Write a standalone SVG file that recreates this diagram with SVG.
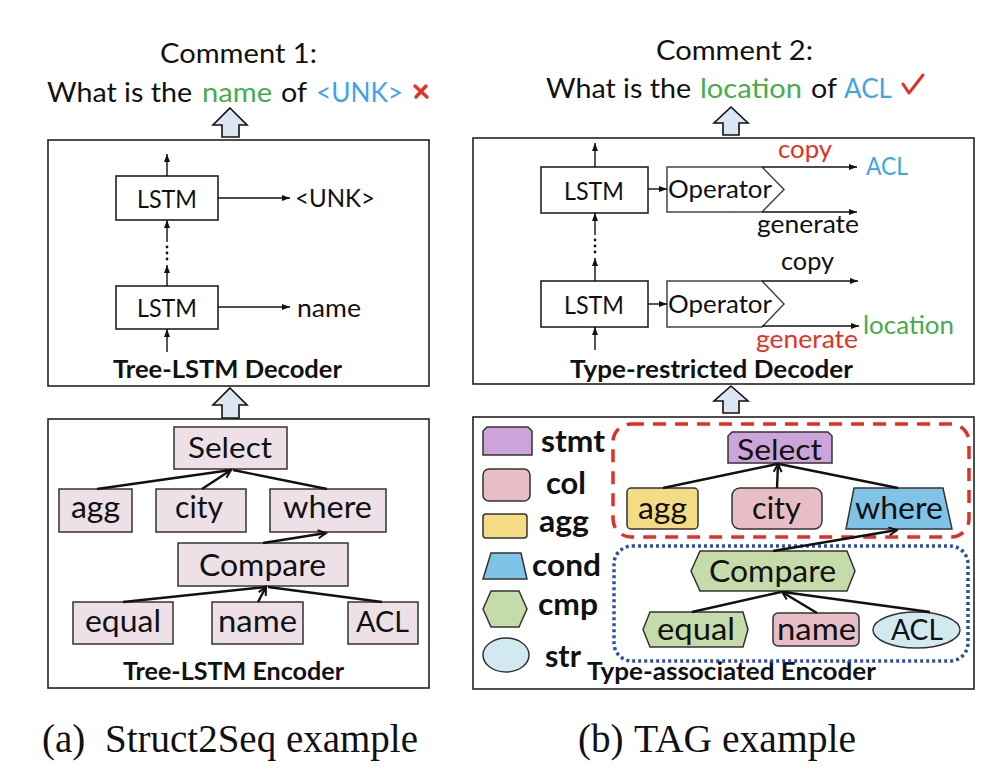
<svg xmlns="http://www.w3.org/2000/svg" width="1000" height="782" viewBox="0 0 1000 782">
<style>
text{font-family:Lato,"Open Sans","Liberation Sans",sans-serif;fill:#111}
.lbl{font-size:25px}
.nl{font-size:31px}
.big{font-size:26px}
.ttl{font-size:24px;font-weight:bold}
.leg{font-size:31px;font-weight:bold}
.cap{font-family:"Liberation Serif","Times New Roman",serif;font-size:39px}
.frame{fill:#fff;stroke:#222;stroke-width:1.6}
.box{fill:#fff;stroke:#222;stroke-width:1.6}
.lnode{fill:#ede1e7;stroke:#333;stroke-width:1.5}
.hol{fill:#dce6f2;stroke:#111;stroke-width:1.6;stroke-linejoin:miter}
.thin{stroke:#111;stroke-width:1.4;fill:none}
.edge{stroke:#111;stroke-width:2.4;fill:none}
.green{fill:#45ad4b}
.blue{fill:#3fa6e6}
.red{fill:#e53222}
.sn{stroke:#333;stroke-width:1.5}
.stmt{fill:#cda4d9}
.col{fill:#e8bec6}
.aggc{fill:#f4dc84}
.cond{fill:#7fc3e6}
.cmp{fill:#c5dcaa}
.str{fill:#d3e9f0}
</style>
<defs>
<marker id="ah" markerUnits="userSpaceOnUse" markerWidth="8" markerHeight="6" refX="8" refY="3" orient="auto">
<path d="M0,0 L8,3 L0,6 z" fill="#111"/>
</marker>
<marker id="va" markerUnits="userSpaceOnUse" markerWidth="12" markerHeight="12" refX="9" refY="5" orient="auto">
<path d="M1,1 L9,5 L1,9" fill="none" stroke="#111" stroke-width="2"/>
</marker>
</defs>
<rect width="1000" height="782" fill="#fff"/>

<!-- ===== Panel (a) ===== -->
<g id="comment1">
<text class="big" x="160" y="63" textLength="157" lengthAdjust="spacingAndGlyphs">Comment 1:</text>
<text class="big" x="47" y="102" textLength="145" lengthAdjust="spacingAndGlyphs">What is the</text>
<text class="big green" x="202" y="102" textLength="70" lengthAdjust="spacingAndGlyphs">name</text>
<text class="big" x="281" y="102" textLength="26" lengthAdjust="spacingAndGlyphs">of</text>
<text class="big blue" x="316" y="102" textLength="87" lengthAdjust="spacingAndGlyphs">&lt;UNK&gt;</text>
<path d="M415,86 L427,97 M426,86 L416,97" stroke="#e53222" stroke-width="3.4" stroke-linecap="round"/>
</g>

<g id="harrow-a1"><path class="hol" d="M230,108 L247,125 L239,125 L239,137 L222,137 L222,125 L213,125 Z"/></g>

<g id="decoder-a">
<rect class="frame" x="48" y="140" width="381" height="246"/>
<text class="ttl" x="113" y="378" textLength="229" lengthAdjust="spacingAndGlyphs">Tree-LSTM Decoder</text>
</g>
<g id="lstm-a1">
<rect class="box" x="116" y="176" width="102" height="44"/>
<text class="lbl" x="137" y="208" textLength="60" lengthAdjust="spacingAndGlyphs">LSTM</text>
</g>
<g id="lstm-a2">
<rect class="box" x="116" y="286" width="102" height="43"/>
<text class="lbl" x="137" y="317" textLength="60" lengthAdjust="spacingAndGlyphs">LSTM</text>
</g>
<g id="out-a1"><text class="lbl" x="295" y="207" textLength="80" lengthAdjust="spacingAndGlyphs">&lt;UNK&gt;</text></g>
<g id="out-a2"><text class="lbl" x="297" y="317" textLength="64" lengthAdjust="spacingAndGlyphs">name</text></g>

<g id="harrow-a2"><path class="hol" d="M230,388 L247,405 L239,405 L239,418 L222,418 L222,405 L213,405 Z"/></g>

<g id="encoder-a">
<rect class="frame" x="48" y="419" width="381" height="269"/>
<text class="ttl" x="123" y="680" textLength="221" lengthAdjust="spacingAndGlyphs">Tree-LSTM Encoder</text>
</g>
<g id="a-select"><rect class="lnode" x="174" y="427" width="113" height="42"/><text class="nl" x="188" y="458" textLength="84" lengthAdjust="spacingAndGlyphs" style="font-size:28px">Select</text></g>
<g id="a-agg"><rect class="lnode" x="59" y="489" width="73" height="43"/><text class="nl" x="71" y="518" textLength="49" lengthAdjust="spacingAndGlyphs">agg</text></g>
<g id="a-city"><rect class="lnode" x="156" y="489" width="90" height="43"/><text class="nl" x="175" y="518" textLength="48" lengthAdjust="spacingAndGlyphs">city</text></g>
<g id="a-where"><rect class="lnode" x="270" y="489" width="116" height="43"/><text class="nl" x="283" y="518" textLength="89" lengthAdjust="spacingAndGlyphs">where</text></g>
<g id="a-compare"><rect class="lnode" x="178" y="543" width="170" height="43"/><text class="nl" x="199" y="576" textLength="127" lengthAdjust="spacingAndGlyphs">Compare</text></g>
<g id="a-equal"><rect class="lnode" x="73" y="602" width="100" height="42"/><text class="nl" x="85" y="632" textLength="76" lengthAdjust="spacingAndGlyphs">equal</text></g>
<g id="a-name"><rect class="lnode" x="212" y="602" width="91" height="42"/><text class="nl" x="218" y="632" textLength="79" lengthAdjust="spacingAndGlyphs">name</text></g>
<g id="a-acl"><rect class="lnode" x="348" y="602" width="70" height="42"/><text class="nl" x="356" y="632" textLength="53" lengthAdjust="spacingAndGlyphs" style="font-size:28px">ACL</text></g>

<!-- ===== Panel (b) ===== -->
<g id="comment2">
<text class="big" x="656" y="60" textLength="157" lengthAdjust="spacingAndGlyphs">Comment 2:</text>
<text class="big" x="546" y="98" textLength="145" lengthAdjust="spacingAndGlyphs">What is the</text>
<text class="big green" x="700" y="98" textLength="102" lengthAdjust="spacingAndGlyphs">location</text>
<text class="big" x="811" y="98" textLength="26" lengthAdjust="spacingAndGlyphs">of</text>
<text class="big blue" x="844" y="98" textLength="48" lengthAdjust="spacingAndGlyphs">ACL</text>
<path d="M903,84 L909,93 L923,75" fill="none" stroke="#e53222" stroke-width="3" stroke-linecap="round" stroke-linejoin="round"/>
</g>

<g id="harrow-b1"><path class="hol" d="M731,107 L748,123 L739,123 L739,135 L723,135 L723,123 L714,123 Z"/></g>

<g id="decoder-b">
<rect class="frame" x="473" y="138" width="501" height="246"/>
<text class="ttl" x="570" y="378" textLength="283" lengthAdjust="spacingAndGlyphs">Type-restricted Decoder</text>
</g>
<g id="lstm-b1"><rect class="box" x="541" y="167" width="107" height="46"/><text class="lbl" x="564" y="200" textLength="60" lengthAdjust="spacingAndGlyphs">LSTM</text></g>
<g id="lstm-b2"><rect class="box" x="541" y="281" width="107" height="46"/><text class="lbl" x="564" y="314" textLength="60" lengthAdjust="spacingAndGlyphs">LSTM</text></g>
<g id="op-b1"><path d="M667,167 H762 L784,189.5 L762,212 H667 Z" fill="#fff" stroke="#444" stroke-width="1.5"/><text class="lbl" x="668" y="198" textLength="104" lengthAdjust="spacingAndGlyphs">Operator</text></g>
<g id="op-b2"><path d="M667,281 H762 L784,304 L762,327 H667 Z" fill="#fff" stroke="#444" stroke-width="1.5"/><text class="lbl" x="668" y="313" textLength="104" lengthAdjust="spacingAndGlyphs">Operator</text></g>
<g id="out-b-labels">
<text class="lbl red" x="778" y="158" textLength="54" lengthAdjust="spacingAndGlyphs">copy</text>
<text class="lbl blue" x="866" y="175" textLength="42" lengthAdjust="spacingAndGlyphs">ACL</text>
<text class="lbl" x="757" y="233" textLength="102" lengthAdjust="spacingAndGlyphs">generate</text>
<text class="lbl" x="781" y="270" textLength="53" lengthAdjust="spacingAndGlyphs">copy</text>
<text class="lbl green" x="863" y="334" textLength="91" lengthAdjust="spacingAndGlyphs">location</text>
<text class="lbl red" x="756" y="348" textLength="102" lengthAdjust="spacingAndGlyphs">generate</text>
</g>

<g id="harrow-b2"><path class="hol" d="M731,386 L748,401 L739,401 L739,413 L723,413 L723,401 L714,401 Z"/></g>

<g id="encoder-b">
<rect class="frame" x="473" y="417" width="501" height="272"/>
<text class="ttl" x="587" y="680" textLength="289" lengthAdjust="spacingAndGlyphs">Type-associated Encoder</text>
</g>
<g id="group-stmt">
<rect x="613" y="424" width="356" height="113" rx="18" fill="none" stroke="#e0302a" stroke-width="3.5" stroke-dasharray="13 9"/>
</g>
<g id="group-cond">
<rect x="614" y="546" width="354" height="115" rx="18" fill="none" stroke="#2f4f9f" stroke-width="3.5" stroke-dasharray="3 3"/>
</g>

<g id="legend">
<g id="leg-stmt"><path class="stmt sn" d="M483,455 V431 L487,427 H528 L532,431 V455 Z"/><text class="leg" x="541" y="452" textLength="64" lengthAdjust="spacingAndGlyphs">stmt</text></g>
<g id="leg-col"><rect class="col sn" x="483" y="469" width="47" height="32" rx="6"/><text class="leg" x="546" y="494" textLength="40" lengthAdjust="spacingAndGlyphs">col</text></g>
<g id="leg-agg"><rect class="aggc sn" x="483" y="514" width="44" height="24" rx="3"/><text class="leg" x="539" y="532" textLength="50" lengthAdjust="spacingAndGlyphs">agg</text></g>
<g id="leg-cond"><path class="cond sn" d="M483,579 L491,553 H521 L527,579 Z"/><text class="leg" x="532" y="576" textLength="69" lengthAdjust="spacingAndGlyphs">cond</text></g>
<g id="leg-cmp"><path class="cmp sn" d="M483,609 L491,591 H519 L527,609 L519,627 H491 Z"/><text class="leg" x="538" y="615" textLength="60" lengthAdjust="spacingAndGlyphs">cmp</text></g>
<g id="leg-str"><ellipse class="str sn" cx="506" cy="655" rx="23" ry="17"/><text class="leg" x="545" y="667" textLength="36" lengthAdjust="spacingAndGlyphs">str</text></g>
</g>

<g id="b-select"><path class="stmt sn" d="M728,463 V436 L732,432 H828 L832,436 V463 Z"/><text class="nl" x="737" y="460" textLength="85" lengthAdjust="spacingAndGlyphs" style="font-size:28px">Select</text></g>
<g id="b-agg"><rect class="aggc sn" x="627" y="488" width="71" height="41" rx="4"/><text class="nl" x="638" y="519" textLength="49" lengthAdjust="spacingAndGlyphs">agg</text></g>
<g id="b-city"><rect class="col sn" x="732" y="488" width="90" height="41" rx="8"/><text class="nl" x="752" y="519" textLength="49" lengthAdjust="spacingAndGlyphs">city</text></g>
<g id="b-where"><path class="cond sn" d="M846,529 L854,488 H943 L952,529 Z"/><text class="nl" x="855" y="519" textLength="88" lengthAdjust="spacingAndGlyphs">where</text></g>
<g id="b-compare"><path class="cmp sn" d="M691,571 L700,551 H847 L855,571 L847,591 H700 Z"/><text class="nl" x="709" y="582" textLength="127" lengthAdjust="spacingAndGlyphs">Compare</text></g>
<g id="b-equal"><path class="cmp sn" d="M643,629.5 L650,612 H743 L748,629.5 L743,647 H650 Z"/><text class="nl" x="657" y="640" textLength="78" lengthAdjust="spacingAndGlyphs">equal</text></g>
<g id="b-name"><rect class="col sn" x="773" y="613" width="86" height="33" rx="5"/><text class="nl" x="777" y="640" textLength="79" lengthAdjust="spacingAndGlyphs">name</text></g>
<g id="b-acl"><ellipse class="str sn" cx="916.5" cy="630" rx="43.5" ry="18"/><text class="nl" x="891" y="640" textLength="52" lengthAdjust="spacingAndGlyphs" style="font-size:29px">ACL</text></g>

<g id="captions">
<text class="cap" x="42" y="752">(a)</text>
<text class="cap" x="105" y="752" textLength="313" lengthAdjust="spacingAndGlyphs">Struct2Seq example</text>
<text class="cap" x="578" y="752">(b)</text>
<text class="cap" x="634" y="752" textLength="222" lengthAdjust="spacingAndGlyphs">TAG example</text>
</g>

<!-- ===== Connectors ===== -->
<g id="connectors">
<!-- panel a decoder -->
<line class="thin" x1="167" y1="176" x2="167" y2="154" marker-end="url(#ah)"/>
<line class="thin" x1="218" y1="198" x2="290" y2="198" marker-end="url(#ah)"/>
<line class="thin" x1="167" y1="242" x2="167" y2="220" marker-end="url(#ah)"/>
<circle cx="167" cy="247" r="1.4" fill="#111"/>
<circle cx="167" cy="253" r="1.4" fill="#111"/>
<circle cx="167" cy="259" r="1.4" fill="#111"/>
<line class="thin" x1="167" y1="286" x2="167" y2="265" marker-end="url(#ah)"/>
<line class="thin" x1="218" y1="307" x2="290" y2="307" marker-end="url(#ah)"/>
<line class="thin" x1="167" y1="352" x2="167" y2="329" marker-end="url(#ah)"/>
<!-- panel a encoder tree -->
<line class="edge" x1="97" y1="489" x2="231" y2="470"/>
<line class="edge" x1="202" y1="489" x2="231" y2="470" marker-end="url(#va)"/>
<line class="edge" x1="327" y1="489" x2="233" y2="470"/>
<line class="edge" x1="263" y1="543" x2="326" y2="533" marker-end="url(#va)"/>
<line class="edge" x1="123" y1="602" x2="266" y2="587"/>
<line class="edge" x1="258" y1="602" x2="266" y2="587" marker-end="url(#va)"/>
<line class="edge" x1="382" y1="602" x2="268" y2="587"/>
<!-- panel b decoder -->
<line class="thin" x1="595" y1="167" x2="595" y2="143" marker-end="url(#ah)"/>
<line class="thin" x1="648" y1="189" x2="667" y2="189" marker-end="url(#ah)"/>
<line class="thin" x1="762" y1="167" x2="857" y2="167" marker-end="url(#ah)"/>
<line class="thin" x1="762" y1="212" x2="857" y2="212" marker-end="url(#ah)"/>
<line class="thin" x1="595" y1="235" x2="595" y2="213" marker-end="url(#ah)"/>
<circle cx="595" cy="240" r="1.4" fill="#111"/>
<circle cx="595" cy="246" r="1.4" fill="#111"/>
<circle cx="595" cy="252" r="1.4" fill="#111"/>
<line class="thin" x1="595" y1="281" x2="595" y2="258" marker-end="url(#ah)"/>
<line class="thin" x1="648" y1="304" x2="667" y2="304" marker-end="url(#ah)"/>
<line class="thin" x1="762" y1="281" x2="858" y2="281" marker-end="url(#ah)"/>
<line class="thin" x1="762" y1="326" x2="859" y2="326" marker-end="url(#ah)"/>
<line class="thin" x1="595" y1="350" x2="595" y2="327" marker-end="url(#ah)"/>
<!-- panel b encoder tree -->
<line class="edge" x1="663" y1="488" x2="777" y2="464"/>
<line class="edge" x1="777" y1="488" x2="778" y2="464" marker-end="url(#va)"/>
<line class="edge" x1="898" y1="488" x2="779" y2="464"/>
<line class="edge" x1="773" y1="551" x2="897" y2="530" marker-end="url(#va)"/>
<line class="edge" x1="692" y1="612" x2="781" y2="592"/>
<line class="edge" x1="817" y1="613" x2="782" y2="592" marker-end="url(#va)"/>
<line class="edge" x1="930" y1="612" x2="783" y2="592"/>
</g>
</svg>
